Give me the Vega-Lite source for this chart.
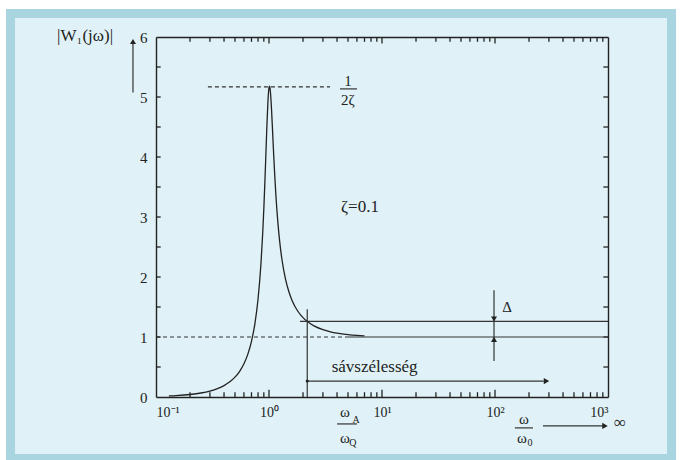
{
  "$schema": "https://vega.github.io/schema/vega-lite/v6.json",
  "width": 452,
  "height": 360,
  "autosize": {"type": "none"},
  "padding": {"left": 156, "top": 37, "right": 74, "bottom": 63},
  "background": "#ffffff",
  "config": {
    "view": {"stroke": null},
    "axis": {"grid": false, "title": null, "domainColor": "#222222", "domainWidth": 1.4, "labelFont": "Liberation Serif", "labelColor": "#222222", "labelFontSize": 14},
    "text": {"font": "Liberation Serif", "color": "#222222"}
  },
  "resolve": {"axis": {"x": "independent", "y": "independent"}},
  "datasets": {
    "panel": [{"name": "panel"}],
    "curve": [
      {"w": 0.13, "m": 0.0172}, {"w": 0.15, "m": 0.023}, {"w": 0.2, "m": 0.0416}, {"w": 0.25, "m": 0.0666},
      {"w": 0.3, "m": 0.0987}, {"w": 0.35, "m": 0.1392}, {"w": 0.4, "m": 0.1897}, {"w": 0.45, "m": 0.2524},
      {"w": 0.5, "m": 0.3306}, {"w": 0.55, "m": 0.4287}, {"w": 0.6, "m": 0.5534}, {"w": 0.65, "m": 0.7148},
      {"w": 0.7, "m": 0.9284}, {"w": 0.75, "m": 1.22}, {"w": 0.8, "m": 1.6325}, {"w": 0.85, "m": 2.238},
      {"w": 0.88, "m": 2.737}, {"w": 0.9, "m": 3.139}, {"w": 0.92, "m": 3.594}, {"w": 0.94, "m": 4.084},
      {"w": 0.96, "m": 4.561}, {"w": 0.98, "m": 4.945}, {"w": 0.99, "m": 5.076}, {"w": 1.0, "m": 5.155},
      {"w": 1.01, "m": 5.179}, {"w": 1.02, "m": 5.151}, {"w": 1.03, "m": 5.079}, {"w": 1.04, "m": 4.97},
      {"w": 1.055, "m": 4.761}, {"w": 1.07, "m": 4.523}, {"w": 1.085, "m": 4.278}, {"w": 1.1, "m": 4.041},
      {"w": 1.125, "m": 3.681}, {"w": 1.15, "m": 3.372}, {"w": 1.2, "m": 2.893}, {"w": 1.25, "m": 2.551},
      {"w": 1.3, "m": 2.3}, {"w": 1.4, "m": 1.9646}, {"w": 1.5, "m": 1.7531}, {"w": 1.6, "m": 1.6095},
      {"w": 1.8, "m": 1.4292}, {"w": 2.0, "m": 1.3223}, {"w": 2.2, "m": 1.2527}, {"w": 2.5, "m": 1.1854},
      {"w": 3.0, "m": 1.122}, {"w": 3.5, "m": 1.0869}, {"w": 4.0, "m": 1.0652}, {"w": 5.0, "m": 1.0408},
      {"w": 6.0, "m": 1.028}, {"w": 7.0, "m": 1.0204}
    ],
    "dashed": [
      {"w1": 0.288, "w2": 3.47, "m1": 5.17, "m2": 5.17},
      {"w1": 0.1, "w2": 5.0, "m1": 1.0, "m2": 1.0}
    ],
    "solid": [
      {"w1": 1.88, "w2": 1000, "m1": 1.26, "m2": 1.26},
      {"w1": 5.0, "w2": 1000, "m1": 1.0, "m2": 1.0},
      {"w1": 2.18, "w2": 2.18, "m1": 0, "m2": 1.463},
      {"w1": 98, "w2": 98, "m1": 0.598, "m2": 1.778},
      {"w1": 2.18, "w2": 270, "m1": 0.266, "m2": 0.266},
      {"w1": 266, "w2": 904, "m1": -0.482, "m2": -0.482},
      {"w1": 0.06256, "w2": 0.06256, "m1": 5.074, "m2": 5.9},
      {"w1": 4.25, "w2": 6.01, "m1": 5.135, "m2": 5.135},
      {"w1": 4.0, "w2": 6.01, "m1": -0.449, "m2": -0.449},
      {"w1": 150, "w2": 217, "m1": -0.515, "m2": -0.515}
    ],
    "tickMarks": [
      {"w1": 0.2, "w2": 0.2, "m1": 0, "m2": 0.08}, {"w1": 0.3, "w2": 0.3, "m1": 0, "m2": 0.08}, {"w1": 0.4, "w2": 0.4, "m1": 0, "m2": 0.08}, {"w1": 0.5, "w2": 0.5, "m1": 0, "m2": 0.08},
      {"w1": 0.6, "w2": 0.6, "m1": 0, "m2": 0.08}, {"w1": 0.7, "w2": 0.7, "m1": 0, "m2": 0.08}, {"w1": 0.8, "w2": 0.8, "m1": 0, "m2": 0.08}, {"w1": 0.9, "w2": 0.9, "m1": 0, "m2": 0.08},
      {"w1": 1, "w2": 1, "m1": 0, "m2": 0.12},
      {"w1": 2, "w2": 2, "m1": 0, "m2": 0.08}, {"w1": 3, "w2": 3, "m1": 0, "m2": 0.08}, {"w1": 4, "w2": 4, "m1": 0, "m2": 0.08}, {"w1": 5, "w2": 5, "m1": 0, "m2": 0.08},
      {"w1": 6, "w2": 6, "m1": 0, "m2": 0.08}, {"w1": 7, "w2": 7, "m1": 0, "m2": 0.08}, {"w1": 8, "w2": 8, "m1": 0, "m2": 0.08}, {"w1": 9, "w2": 9, "m1": 0, "m2": 0.08},
      {"w1": 10, "w2": 10, "m1": 0, "m2": 0.12},
      {"w1": 20, "w2": 20, "m1": 0, "m2": 0.08}, {"w1": 30, "w2": 30, "m1": 0, "m2": 0.08}, {"w1": 40, "w2": 40, "m1": 0, "m2": 0.08}, {"w1": 50, "w2": 50, "m1": 0, "m2": 0.08},
      {"w1": 60, "w2": 60, "m1": 0, "m2": 0.08}, {"w1": 70, "w2": 70, "m1": 0, "m2": 0.08}, {"w1": 80, "w2": 80, "m1": 0, "m2": 0.08}, {"w1": 90, "w2": 90, "m1": 0, "m2": 0.08},
      {"w1": 100, "w2": 100, "m1": 0, "m2": 0.12},
      {"w1": 200, "w2": 200, "m1": 0, "m2": 0.08}, {"w1": 300, "w2": 300, "m1": 0, "m2": 0.08}, {"w1": 400, "w2": 400, "m1": 0, "m2": 0.08}, {"w1": 500, "w2": 500, "m1": 0, "m2": 0.08},
      {"w1": 600, "w2": 600, "m1": 0, "m2": 0.08}, {"w1": 700, "w2": 700, "m1": 0, "m2": 0.08}, {"w1": 800, "w2": 800, "m1": 0, "m2": 0.08}, {"w1": 900, "w2": 900, "m1": 0, "m2": 0.08},
      {"w1": 0.2, "w2": 0.2, "m1": 5.92, "m2": 6}, {"w1": 0.3, "w2": 0.3, "m1": 5.92, "m2": 6}, {"w1": 0.4, "w2": 0.4, "m1": 5.92, "m2": 6}, {"w1": 0.5, "w2": 0.5, "m1": 5.92, "m2": 6},
      {"w1": 0.6, "w2": 0.6, "m1": 5.92, "m2": 6}, {"w1": 0.7, "w2": 0.7, "m1": 5.92, "m2": 6}, {"w1": 0.8, "w2": 0.8, "m1": 5.92, "m2": 6}, {"w1": 0.9, "w2": 0.9, "m1": 5.92, "m2": 6},
      {"w1": 1, "w2": 1, "m1": 5.89, "m2": 6},
      {"w1": 2, "w2": 2, "m1": 5.92, "m2": 6}, {"w1": 3, "w2": 3, "m1": 5.92, "m2": 6}, {"w1": 4, "w2": 4, "m1": 5.92, "m2": 6}, {"w1": 5, "w2": 5, "m1": 5.92, "m2": 6},
      {"w1": 6, "w2": 6, "m1": 5.92, "m2": 6}, {"w1": 7, "w2": 7, "m1": 5.92, "m2": 6}, {"w1": 8, "w2": 8, "m1": 5.92, "m2": 6}, {"w1": 9, "w2": 9, "m1": 5.92, "m2": 6},
      {"w1": 10, "w2": 10, "m1": 5.89, "m2": 6},
      {"w1": 20, "w2": 20, "m1": 5.92, "m2": 6}, {"w1": 30, "w2": 30, "m1": 5.92, "m2": 6}, {"w1": 40, "w2": 40, "m1": 5.92, "m2": 6}, {"w1": 50, "w2": 50, "m1": 5.92, "m2": 6},
      {"w1": 60, "w2": 60, "m1": 5.92, "m2": 6}, {"w1": 70, "w2": 70, "m1": 5.92, "m2": 6}, {"w1": 80, "w2": 80, "m1": 5.92, "m2": 6}, {"w1": 90, "w2": 90, "m1": 5.92, "m2": 6},
      {"w1": 100, "w2": 100, "m1": 5.89, "m2": 6},
      {"w1": 200, "w2": 200, "m1": 5.92, "m2": 6}, {"w1": 300, "w2": 300, "m1": 5.92, "m2": 6}, {"w1": 400, "w2": 400, "m1": 5.92, "m2": 6}, {"w1": 500, "w2": 500, "m1": 5.92, "m2": 6},
      {"w1": 600, "w2": 600, "m1": 5.92, "m2": 6}, {"w1": 700, "w2": 700, "m1": 5.92, "m2": 6}, {"w1": 800, "w2": 800, "m1": 5.92, "m2": 6}, {"w1": 900, "w2": 900, "m1": 5.92, "m2": 6},
      {"w1": 0.1, "w2": 0.11, "m1": 0.5, "m2": 0.5}, {"w1": 0.1, "w2": 0.11, "m1": 1, "m2": 1}, {"w1": 0.1, "w2": 0.11, "m1": 1.5, "m2": 1.5}, {"w1": 0.1, "w2": 0.11, "m1": 2, "m2": 2},
      {"w1": 0.1, "w2": 0.11, "m1": 2.5, "m2": 2.5}, {"w1": 0.1, "w2": 0.11, "m1": 3, "m2": 3}, {"w1": 0.1, "w2": 0.11, "m1": 3.5, "m2": 3.5}, {"w1": 0.1, "w2": 0.11, "m1": 4, "m2": 4},
      {"w1": 0.1, "w2": 0.11, "m1": 4.5, "m2": 4.5}, {"w1": 0.1, "w2": 0.11, "m1": 5, "m2": 5}, {"w1": 0.1, "w2": 0.11, "m1": 5.5, "m2": 5.5},
      {"w1": 909, "w2": 1000, "m1": 0.5, "m2": 0.5}, {"w1": 909, "w2": 1000, "m1": 1, "m2": 1}, {"w1": 909, "w2": 1000, "m1": 1.5, "m2": 1.5}, {"w1": 909, "w2": 1000, "m1": 2, "m2": 2},
      {"w1": 909, "w2": 1000, "m1": 2.5, "m2": 2.5}, {"w1": 909, "w2": 1000, "m1": 3, "m2": 3}, {"w1": 909, "w2": 1000, "m1": 3.5, "m2": 3.5}, {"w1": 909, "w2": 1000, "m1": 4, "m2": 4},
      {"w1": 909, "w2": 1000, "m1": 4.5, "m2": 4.5}, {"w1": 909, "w2": 1000, "m1": 5, "m2": 5}, {"w1": 909, "w2": 1000, "m1": 5.5, "m2": 5.5}
    ],
    "headsRight": [{"w": 285.6, "m": 0.266}, {"w": 941, "m": -0.482}],
    "headsUp": [{"w": 0.06256, "m": 5.925}, {"w": 98, "m": 0.96}],
    "headsDown": [{"w": 98, "m": 1.3}],
    "dots": [{"w": 2.18, "m": 0.266}],
    "textBig": [
      {"w": 6.38, "m": 3.174, "label": "ζ=0.1"},
      {"w": 8.6, "m": 0.5, "label": "sávszélesség"},
      {"w": 0.02355, "m": 6.016, "label": "|W₁(jω)|"},
      {"w": 1276, "m": -0.432, "label": "∞"}
    ],
    "textMid": [
      {"w": 5.0, "m": 5.27, "label": "1"},
      {"w": 5.0, "m": 4.95, "label": "2ζ"},
      {"w": 127.6, "m": 1.496, "label": "Δ"},
      {"w": 4.71, "m": -0.249, "label": "ω"},
      {"w": 4.71, "m": -0.68, "label": "ω"},
      {"w": 180.6, "m": -0.37, "label": "ω"},
      {"w": 173.5, "m": -0.68, "label": "ω"}
    ],
    "textSmall": [
      {"w": 5.89, "m": -0.382, "label": "A"},
      {"w": 5.53, "m": -0.76, "label": "Q"},
      {"w": 204, "m": -0.76, "label": "0"}
    ]
  },
  "layer": [
    {
      "data": {"name": "panel"},
      "mark": {"type": "rect", "fill": "#e0f2f7", "stroke": "#a8d5e0", "strokeWidth": 9, "opacity": 1},
      "encoding": {
        "x": {"datum": 0.005159, "type": "quantitative", "scale": {"type": "log", "domain": [0.1, 1000], "nice": false},
              "axis": {"zindex": 2, "orient": "bottom", "offset": -360, "values": [0.1, 1000], "ticks": false, "labels": false, "domain": true}},
        "x2": {"datum": 3646},
        "y": {"datum": -1.025, "type": "quantitative", "scale": {"domain": [0, 6], "nice": false, "zero": false},
              "axis": {"zindex": 2, "orient": "left", "offset": -452, "values": [0, 6], "ticks": false, "labels": false, "domain": true}},
        "y2": {"datum": 6.392}
      }
    },
    {
      "data": {"name": "curve"},
      "mark": {"type": "line", "stroke": "#222222", "strokeWidth": 1.3, "interpolate": "monotone"},
      "encoding": {
        "x": {"field": "w", "type": "quantitative", "scale": {"type": "log", "domain": [0.1, 1000], "nice": false},
              "axis": {"zindex": 2, "orient": "bottom", "values": [0.1, 1, 10, 100, 1000], "ticks": false, "labelPadding": 8,
                       "labelExpr": "datum.value < 0.5 ? '10⁻¹' : datum.value < 5 ? '10⁰' : datum.value < 50 ? '10¹' : datum.value < 500 ? '10²' : '10³'"}},
        "y": {"field": "m", "type": "quantitative", "scale": {"domain": [0, 6], "nice": false, "zero": false},
              "axis": {"zindex": 2, "orient": "left", "values": [0,1,2,3,4,5,6], "ticks": false, "labelPadding": 9, "labelFontSize": 15, "format": ".0f"}}
      }
    },
    {
      "data": {"name": "tickMarks"},
      "mark": {"type": "rule", "stroke": "#222222", "strokeWidth": 1.3},
      "encoding": {
        "x": {"field": "w1", "type": "quantitative", "axis": null},
        "x2": {"field": "w2"},
        "y": {"field": "m1", "type": "quantitative", "axis": null},
        "y2": {"field": "m2"}
      }
    },
    {
      "data": {"name": "dashed"},
      "mark": {"type": "rule", "stroke": "#333333", "strokeWidth": 1.2, "strokeDash": [4, 3]},
      "encoding": {
        "x": {"field": "w1", "type": "quantitative", "axis": null},
        "x2": {"field": "w2"},
        "y": {"field": "m1", "type": "quantitative", "axis": null},
        "y2": {"field": "m2"}
      }
    },
    {
      "data": {"name": "solid"},
      "mark": {"type": "rule", "stroke": "#333333", "strokeWidth": 1.2},
      "encoding": {
        "x": {"field": "w1", "type": "quantitative", "axis": null},
        "x2": {"field": "w2"},
        "y": {"field": "m1", "type": "quantitative", "axis": null},
        "y2": {"field": "m2"}
      }
    },
    {
      "data": {"name": "headsRight"},
      "mark": {"type": "point", "shape": "triangle-right", "filled": true, "color": "#222222", "size": 40, "opacity": 1},
      "encoding": {
        "x": {"field": "w", "type": "quantitative", "axis": null},
        "y": {"field": "m", "type": "quantitative", "axis": null}
      }
    },
    {
      "data": {"name": "headsUp"},
      "mark": {"type": "point", "shape": "triangle-up", "filled": true, "color": "#222222", "size": 36, "opacity": 1},
      "encoding": {
        "x": {"field": "w", "type": "quantitative", "axis": null},
        "y": {"field": "m", "type": "quantitative", "axis": null}
      }
    },
    {
      "data": {"name": "headsDown"},
      "mark": {"type": "point", "shape": "triangle-down", "filled": true, "color": "#222222", "size": 36, "opacity": 1},
      "encoding": {
        "x": {"field": "w", "type": "quantitative", "axis": null},
        "y": {"field": "m", "type": "quantitative", "axis": null}
      }
    },
    {
      "data": {"name": "dots"},
      "mark": {"type": "point", "shape": "circle", "filled": true, "color": "#222222", "size": 10, "opacity": 1},
      "encoding": {
        "x": {"field": "w", "type": "quantitative", "axis": null},
        "y": {"field": "m", "type": "quantitative", "axis": null}
      }
    },
    {
      "data": {"name": "textBig"},
      "mark": {"type": "text", "font": "Liberation Serif", "fontSize": 17, "align": "center", "baseline": "middle", "color": "#222222"},
      "encoding": {
        "x": {"field": "w", "type": "quantitative", "axis": null},
        "y": {"field": "m", "type": "quantitative", "axis": null},
        "text": {"field": "label"}
      }
    },
    {
      "data": {"name": "textMid"},
      "mark": {"type": "text", "font": "Liberation Serif", "fontSize": 15, "align": "center", "baseline": "middle", "color": "#222222"},
      "encoding": {
        "x": {"field": "w", "type": "quantitative", "axis": null},
        "y": {"field": "m", "type": "quantitative", "axis": null},
        "text": {"field": "label"}
      }
    },
    {
      "data": {"name": "textSmall"},
      "mark": {"type": "text", "font": "Liberation Serif", "fontSize": 10, "align": "center", "baseline": "middle", "color": "#222222"},
      "encoding": {
        "x": {"field": "w", "type": "quantitative", "axis": null},
        "y": {"field": "m", "type": "quantitative", "axis": null},
        "text": {"field": "label"}
      }
    }
  ]
}
